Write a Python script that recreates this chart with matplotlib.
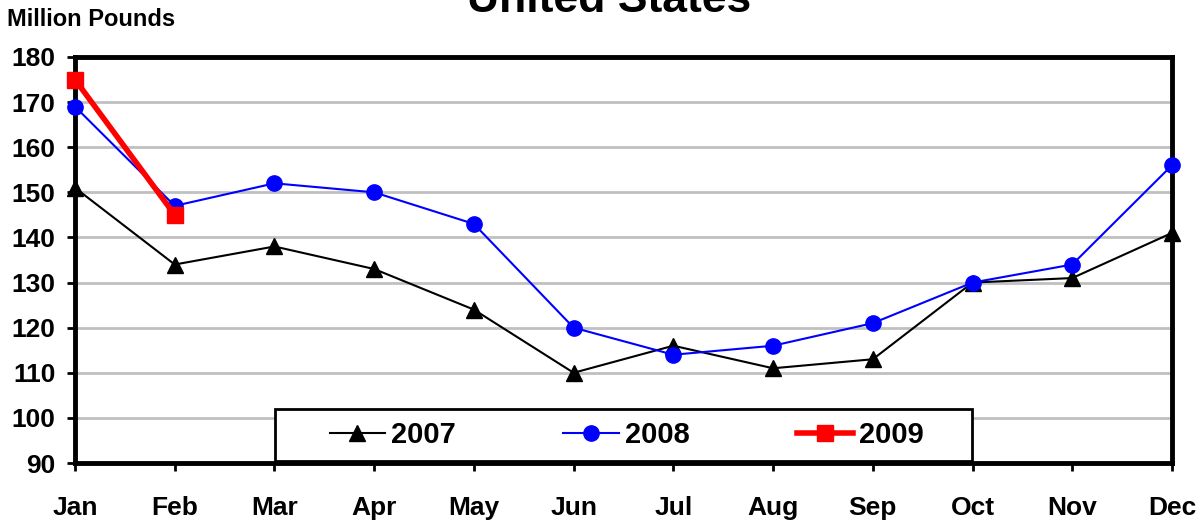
import matplotlib.pyplot as plt
from matplotlib.patches import Rectangle
import numpy as np

months = ['Jan', 'Feb', 'Mar', 'Apr', 'May', 'Jun', 'Jul', 'Aug', 'Sep', 'Oct', 'Nov', 'Dec']
vals2007 = [151, 134, 138, 133, 124, 110, 116, 111, 113, 130, 131, 141]
vals2008 = [169, 147, 152, 150, 143, 120, 114, 116, 121, 130, 134, 156]
vals2009 = [175, 145]
yticks = [90, 100, 110, 120, 130, 140, 150, 160, 170, 180]

plt.rcParams['font.family'] = ['Liberation Sans', 'DejaVu Sans']
plt.rcParams['font.weight'] = 'bold'

fig = plt.figure(figsize=(12.04, 5.21), dpi=100)
ax = fig.add_axes([0.0623, 0.1113, 0.9111, 0.7793])

x = np.arange(len(months))
ax.plot(x, vals2007, color='black', lw=1.5, marker='^', ms=11, label='2007', zorder=3, clip_on=False)
ax.plot(x, vals2008, color='blue', lw=1.5, marker='o', ms=11, label='2008', zorder=4, clip_on=False)
ax.plot(x[:len(vals2009)], vals2009, color='red', lw=4, marker='s', ms=11, label='2009', zorder=5, clip_on=False)

ax.set_xlim(0, len(months) - 1)
ax.set_ylim(90, 180)
ax.set_yticks(yticks)
ax.set_xticks(x)
ax.set_xticklabels(months)
ax.yaxis.grid(True, color='#c0c0c0', lw=2)
ax.set_axisbelow(True)
for s in ax.spines.values():
    s.set_linewidth(3.5)
    s.set_color('black')
ax.tick_params(axis='both', labelsize=19, width=2, length=6, direction='out')
ax.tick_params(axis='x', pad=18)
ax.tick_params(axis='y', pad=8)
for lbl in ax.get_xticklabels() + ax.get_yticklabels():
    lbl.set_fontweight('bold')

# legend box drawn by hand so the entries sit centred inside it
box = Rectangle((0.1823, 0.005), 0.6354, 0.128, transform=ax.transAxes, facecolor='white',
                edgecolor='black', lw=2, zorder=6, clip_on=False)
ax.add_patch(box)
leg = ax.legend(loc='center', bbox_to_anchor=(0.5027, 0.069), ncol=3, frameon=False,
                prop={'size': 21, 'weight': 'bold'}, handlelength=1.9, handletextpad=0.2,
                columnspacing=3.7, borderaxespad=0)
leg.set_zorder(7)

fig.text(0.006, 1 - 26 / 521, 'Million Pounds', fontsize=17, fontweight='bold', ha='left', va='baseline')
fig.text(0.506, 1 - 12 / 521, 'United States', fontsize=32, fontweight='bold', ha='center', va='baseline')

fig.savefig('out.png', dpi=100)
